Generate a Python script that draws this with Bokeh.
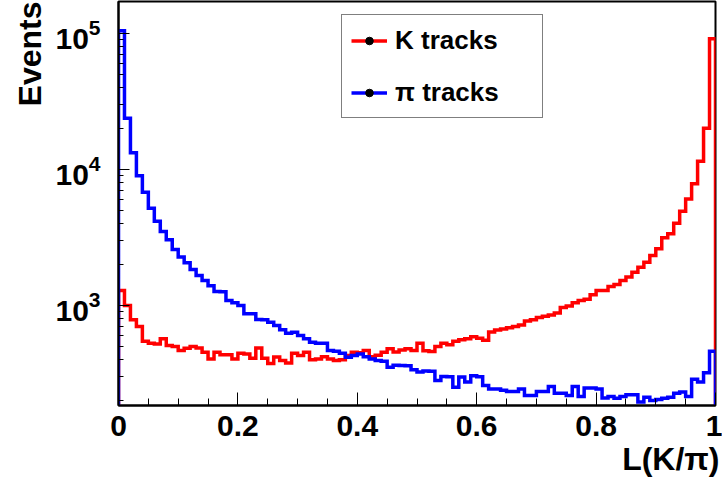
import numpy as np
from bokeh.plotting import figure
from bokeh.models import (Legend, LegendItem, Title, LogTicker,
                          SingleIntervalTicker, Range1d)
from bokeh.embed import file_html
from bokeh.resources import INLINE

# ---------------- data ----------------
n_bins = 100
x_lo, x_hi = 0.0, 1.0

k_counts = [1290, 1000, 785, 702, 547, 528, 522, 569, 508, 500,
            467, 485, 500, 488, 454, 405, 454, 434, 434, 405,
            446, 440, 410, 488, 410, 375, 418, 395, 378, 446,
            429, 454, 400, 405, 420, 405, 395, 400, 429, 454,
            450, 467, 420, 430, 454, 480, 455, 470, 480, 467,
            528, 465, 460, 500, 528, 515, 547, 560, 569, 590,
            575, 555, 640, 660, 672, 685, 700, 720, 770, 785,
            815, 835, 850, 880, 965, 990, 1050, 1090, 1110, 1200,
            1290, 1290, 1380, 1430, 1530, 1620, 1760, 1910, 2080, 2330,
            2610, 3150, 3370, 4030, 4930, 6080, 7850, 11500, 20100, 91500]

pi_counts = [105000, 23800, 13300, 9000, 6800, 5200, 4170, 3500, 3050, 2580,
             2270, 2060, 1840, 1660, 1530, 1400, 1270, 1260, 1090, 1050,
             1000, 870, 870, 790, 785, 753, 713, 663, 626, 637,
             601, 569, 537, 528, 528, 467, 462, 446, 417, 429,
             440, 420, 405, 395, 390, 352, 363, 362, 360, 337,
             324, 330, 328, 281, 301, 300, 251, 298, 274, 305,
             300, 258, 243, 243, 238, 233, 233, 243, 218, 218,
             233, 233, 254, 226, 226, 218, 254, 214, 247, 247,
             243, 209, 214, 208, 214, 221, 221, 195, 212, 200,
             204, 208, 212, 226, 231, 214, 287, 274, 321, 462]

series_labels = ["K tracks", "\u03c0 tracks"]
x_title = "L(K/\u03c0)"
y_title = "Events"
y_lo, y_hi = 184, 1.72e5

# ---------------- helpers ----------------
edges = np.linspace(x_lo, x_hi, n_bins + 1)


def outline(counts):
    xs = np.repeat(edges, 2)
    ys = np.concatenate([[1.0], np.repeat(np.asarray(counts, float), 2), [1.0]])
    return xs, ys


FONT = "Liberation Sans"

p = figure(width=722, height=488, y_axis_type="log",
           x_range=Range1d(x_lo, x_hi), y_range=Range1d(y_lo, y_hi),
           output_backend="svg", toolbar_location=None,
           min_border_left=118, min_border_right=7,
           min_border_top=1, min_border_bottom=83)

p.background_fill_color = "white"
p.border_fill_color = "white"
p.outline_line_color = "black"
p.outline_line_width = 2
p.xgrid.grid_line_color = None
p.ygrid.grid_line_color = None

# axes
p.xaxis.ticker = SingleIntervalTicker(interval=0.2, num_minor_ticks=4)
p.yaxis.ticker = LogTicker(num_minor_ticks=10)
for ax in (p.xaxis, p.yaxis):
    ax.axis_line_color = "black"
    ax.axis_line_width = 2
    ax.major_tick_out = 0
    ax.minor_tick_out = 0
    ax.major_tick_line_color = "black"
    ax.minor_tick_line_color = "black"
    ax.major_label_text_font = FONT
    ax.major_label_text_font_style = "bold"
    ax.major_label_text_font_size = "30px"
    ax.major_label_text_color = "black"
p.xaxis.major_tick_in = 13
p.xaxis.minor_tick_in = 7
p.yaxis.major_tick_in = 11
p.yaxis.minor_tick_in = 5
p.xaxis.major_label_standoff = 10
p.yaxis.major_label_standoff = 18
p.xaxis.major_label_overrides = {0: "0", 1: "1"}

# histograms
xk, yk = outline(k_counts)
xp, yp = outline(pi_counts)
r_k = p.line(xk, yk, line_color="#ff0000", line_width=3.5, line_join="miter")
r_pi = p.line(xp, yp, line_color="#0000ff", line_width=3.5, line_join="miter")

# marker-only renderers used just for the legend's black dots (no visible point)
dot_k = p.scatter(x=[np.nan], y=[np.nan], marker="circle", size=8, color="black")
dot_pi = p.scatter(x=[np.nan], y=[np.nan], marker="circle", size=8, color="black")

legend = Legend(items=[LegendItem(label=series_labels[0], renderers=[r_k, dot_k]),
                       LegendItem(label=series_labels[1], renderers=[r_pi, dot_pi])],
                location=(223, 287), margin=0, padding=9,
                border_line_color="black", border_line_width=1,
                background_fill_color="white", background_fill_alpha=1,
                label_text_font=FONT, label_text_font_style="bold",
                label_text_color="black",
                label_text_font_size="26px", glyph_width=36, glyph_height=19,
                label_height=32, spacing=20, label_standoff=8, label_width=138)
p.add_layout(legend)

# axis titles (ROOT style, aligned to the axis ends)
p.add_layout(Title(text=x_title, align="right", text_font=FONT,
                   text_font_style="bold", text_font_size="32px",
                   text_color="black", standoff=0, offset=-4), "below")
p.add_layout(Title(text=y_title, align="right", text_font=FONT,
                   text_font_style="bold", text_font_size="32px",
                   text_color="black", standoff=10), "left")

open("out.html", "w").write(file_html(p, INLINE))
